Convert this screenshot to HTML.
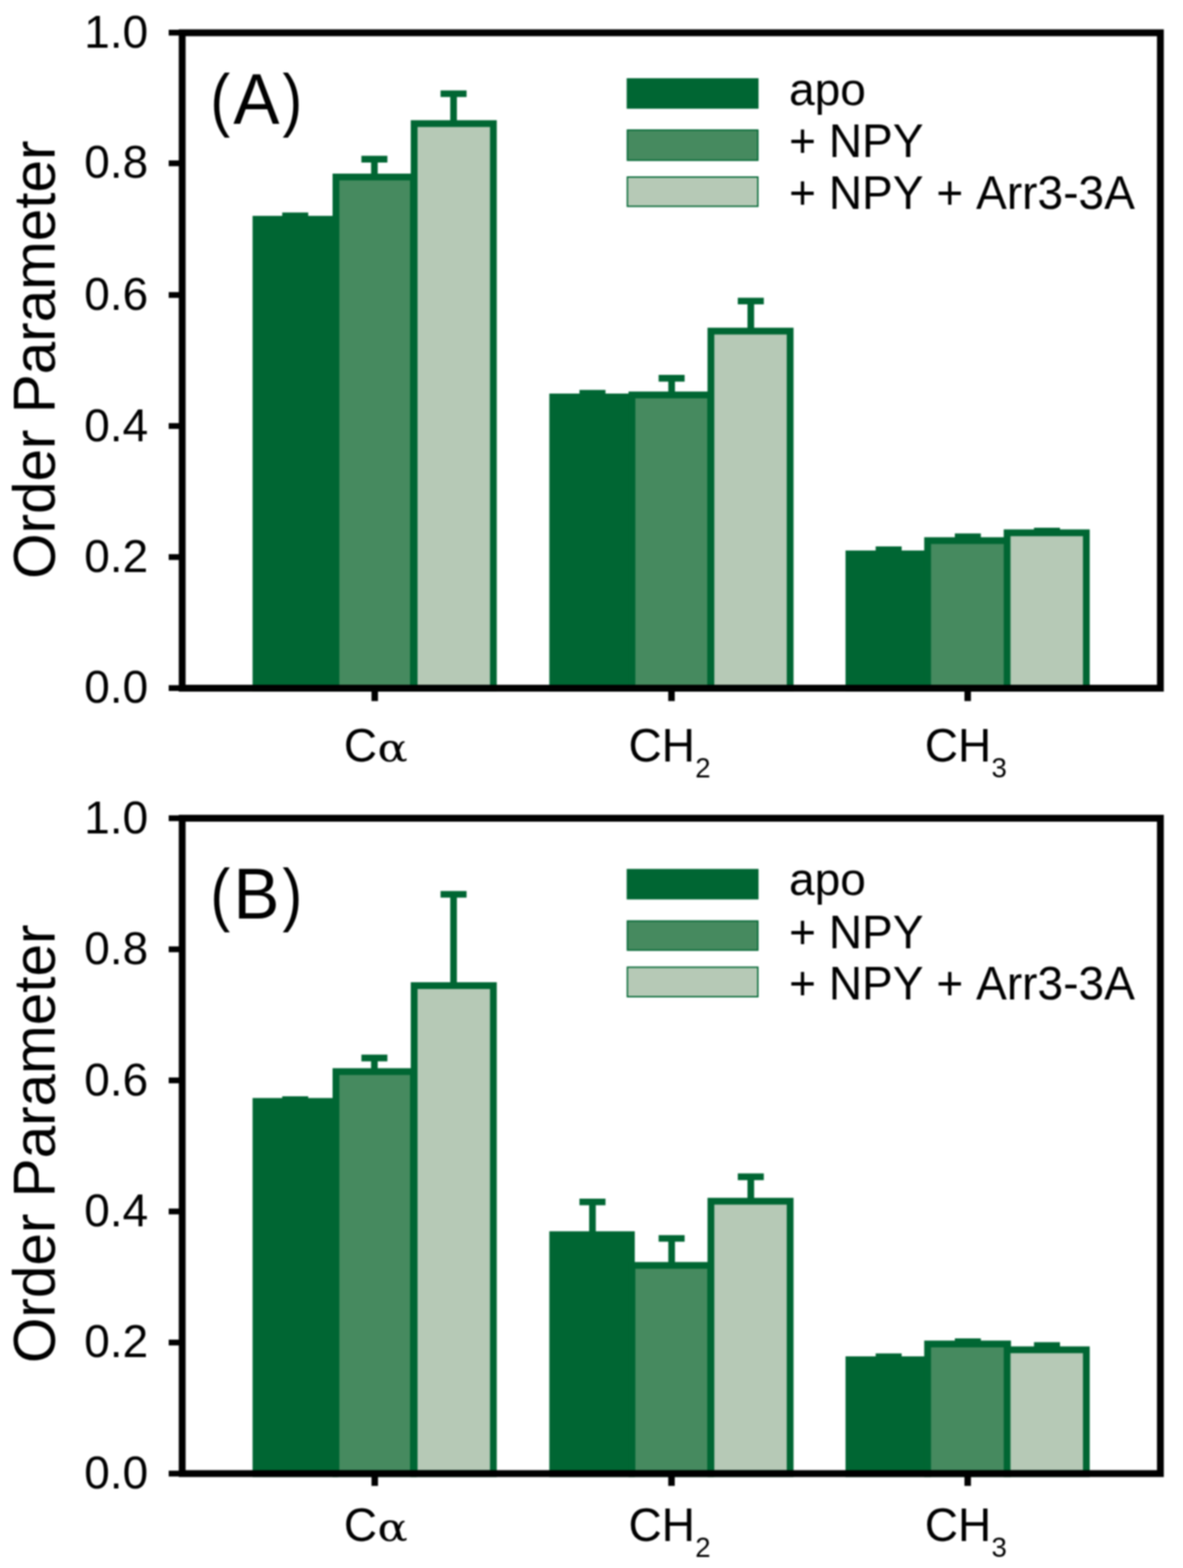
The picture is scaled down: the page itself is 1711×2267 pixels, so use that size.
<!DOCTYPE html>
<html lang="en">
<head>
<meta charset="utf-8">
<title>Order Parameter</title>
<style>
html,body{margin:0;padding:0;background:#fff;}
body{width:1711px;height:2267px;overflow:hidden;}
svg{display:block;}
svg{filter:blur(0.8px);}
text{font-family:"Liberation Sans",sans-serif;fill:#000;font-kerning:none;}
.al{font-family:"DejaVu Math TeX Gyre","DejaVu Serif","Liberation Serif",serif;}
</style>
</head>
<body>
<svg width="1711" height="2267" viewBox="0 0 1711 2267" role="img" aria-label="Order parameter bar charts, panels A and B">
<rect width="1711" height="2267" fill="#fff"/>
<g id="chart">
<g id="panel-a">
<path d="M427.0 317.0V312.1M408.2 312.1H445.8" stroke="#006633" stroke-width="9.6" fill="none"/>
<rect x="370.20" y="317.00" width="113.80" height="678.00" fill="#006633" stroke="#006633" stroke-width="9.8"/>
<path d="M541.5 255.9V230.1M522.7 230.1H560.3" stroke="#006633" stroke-width="9.6" fill="none"/>
<rect x="485.90" y="255.90" width="112.00" height="739.10" fill="#468a5f" stroke="#006633" stroke-width="9.8"/>
<path d="M656.0 178.7V135.5M637.2 135.5H674.8" stroke="#006633" stroke-width="9.6" fill="none"/>
<rect x="599.00" y="178.70" width="114.60" height="816.30" fill="#b6c9b6" stroke="#006633" stroke-width="9.8"/>
<path d="M856.9 573.9V568.5M838.1 568.5H875.7" stroke="#006633" stroke-width="9.6" fill="none"/>
<rect x="799.40" y="573.90" width="113.80" height="421.10" fill="#006633" stroke="#006633" stroke-width="9.8"/>
<path d="M971.4 571.0V546.9M952.6 546.9H990.2" stroke="#006633" stroke-width="9.6" fill="none"/>
<rect x="914.00" y="571.00" width="113.80" height="424.00" fill="#468a5f" stroke="#006633" stroke-width="9.8"/>
<path d="M1085.9 478.7V435.2M1067.1 435.2H1104.7" stroke="#006633" stroke-width="9.6" fill="none"/>
<rect x="1028.20" y="478.70" width="114.60" height="516.30" fill="#b6c9b6" stroke="#006633" stroke-width="9.8"/>
<path d="M1285.3 800.8V794.7M1266.5 794.7H1304.1" stroke="#006633" stroke-width="9.6" fill="none"/>
<rect x="1227.80" y="800.80" width="113.80" height="194.20" fill="#006633" stroke="#006633" stroke-width="9.8"/>
<path d="M1399.8 781.6V776.0M1381.0 776.0H1418.6" stroke="#006633" stroke-width="9.6" fill="none"/>
<rect x="1341.60" y="781.60" width="115.70" height="213.40" fill="#468a5f" stroke="#006633" stroke-width="9.8"/>
<path d="M1514.3 770.3V767.8M1495.5 767.8H1533.1" stroke="#006633" stroke-width="9.6" fill="none"/>
<rect x="1456.60" y="770.30" width="114.60" height="224.70" fill="#b6c9b6" stroke="#006633" stroke-width="9.8"/>
<rect x="263.5" y="47.4" width="1414.8" height="947.6" fill="none" stroke="#000" stroke-width="9.9"/>
<line x1="244" y1="47.2" x2="263.5" y2="47.2" stroke="#000" stroke-width="8.4"/>
<text x="214.4" y="68.8" text-anchor="end" font-size="66.67">1.0</text>
<line x1="244" y1="236.1" x2="263.5" y2="236.1" stroke="#000" stroke-width="8.4"/>
<text x="214.4" y="257.4" text-anchor="end" font-size="66.67">0.8</text>
<line x1="244" y1="426.5" x2="263.5" y2="426.5" stroke="#000" stroke-width="8.4"/>
<text x="214.4" y="447.8" text-anchor="end" font-size="66.67">0.6</text>
<line x1="244" y1="615.9" x2="263.5" y2="615.9" stroke="#000" stroke-width="8.4"/>
<text x="214.4" y="637.5" text-anchor="end" font-size="66.67">0.4</text>
<line x1="244" y1="805.4" x2="263.5" y2="805.4" stroke="#000" stroke-width="8.4"/>
<text x="214.4" y="826.6" text-anchor="end" font-size="66.67">0.2</text>
<line x1="244" y1="994.8" x2="263.5" y2="994.8" stroke="#000" stroke-width="8.4"/>
<text x="214.4" y="1015.9" text-anchor="end" font-size="66.67">0.0</text>
<line x1="542.0" y1="995.0" x2="542.0" y2="1013.6" stroke="#000" stroke-width="9.4"/>
<line x1="971.2" y1="995.0" x2="971.2" y2="1013.6" stroke="#000" stroke-width="9.4"/>
<line x1="1399.6" y1="995.0" x2="1399.6" y2="1013.6" stroke="#000" stroke-width="9.4"/>
<text y="1100.7" font-size="69.40"><tspan x="497.2" textLength="48.15" lengthAdjust="spacingAndGlyphs">C</tspan><tspan class="al" x="543.9" dy="0" font-size="55.6" textLength="49.2" lengthAdjust="spacingAndGlyphs">α</tspan></text>
<text y="1100.7" font-size="69.40"><tspan x="908.9" textLength="96.30" lengthAdjust="spacingAndGlyphs">CH</tspan><tspan x="1005.5" dy="23" font-size="40">2</tspan></text>
<text y="1100.7" font-size="69.40"><tspan x="1337.4" textLength="96.30" lengthAdjust="spacingAndGlyphs">CH</tspan><tspan x="1434.0" dy="23" font-size="40">3</tspan></text>
<text transform="translate(79.2 520.0) rotate(-90)" text-anchor="middle" font-size="84.5">Order Parameter</text>
<text y="177.5" font-size="100"><tspan x="304.2" textLength="28.64" lengthAdjust="spacingAndGlyphs">(</tspan><tspan x="337.5" dy="1" font-size="104.1" textLength="66.7" lengthAdjust="spacingAndGlyphs">A</tspan><tspan x="408.6" dy="-1" font-size="100" textLength="28.64" lengthAdjust="spacingAndGlyphs">)</tspan></text>
<rect x="907.4" y="114.1" width="188.7" height="42.1" fill="#006633" stroke="#006633" stroke-width="2"/>
<text x="1141.2" y="151.9" font-size="66.67">apo</text>
<rect x="907.4" y="188.1" width="188.7" height="43.6" fill="#468a5f" stroke="#006633" stroke-width="2"/>
<text transform="translate(1141.2 227.4) scale(1 1.041)" font-size="66.67">+ NPY</text>
<rect x="907.4" y="256.0" width="188.7" height="42.3" fill="#b6c9b6" stroke="#006633" stroke-width="2"/>
<text transform="translate(1141.2 301.7) scale(1 1.041)" font-size="66.67">+ NPY + Arr3-3A</text>
</g>
<g id="panel-b">
<path d="M427.0 1592.4V1589.9M408.2 1589.9H445.8" stroke="#006633" stroke-width="9.6" fill="none"/>
<rect x="370.20" y="1592.40" width="113.80" height="538.10" fill="#006633" stroke="#006633" stroke-width="9.8"/>
<path d="M541.5 1549.3V1529.6M522.7 1529.6H560.3" stroke="#006633" stroke-width="9.6" fill="none"/>
<rect x="485.90" y="1549.30" width="112.00" height="581.20" fill="#468a5f" stroke="#006633" stroke-width="9.8"/>
<path d="M656.0 1425.0V1293.0M637.2 1293.0H674.8" stroke="#006633" stroke-width="9.6" fill="none"/>
<rect x="599.00" y="1425.00" width="114.60" height="705.50" fill="#b6c9b6" stroke="#006633" stroke-width="9.8"/>
<path d="M856.9 1785.1V1737.8M838.1 1737.8H875.7" stroke="#006633" stroke-width="9.6" fill="none"/>
<rect x="799.40" y="1785.10" width="113.80" height="345.40" fill="#006633" stroke="#006633" stroke-width="9.8"/>
<path d="M971.4 1829.5V1790.5M952.6 1790.5H990.2" stroke="#006633" stroke-width="9.6" fill="none"/>
<rect x="914.00" y="1829.50" width="113.80" height="301.00" fill="#468a5f" stroke="#006633" stroke-width="9.8"/>
<path d="M1085.9 1736.7V1701.4M1067.1 1701.4H1104.7" stroke="#006633" stroke-width="9.6" fill="none"/>
<rect x="1028.20" y="1736.70" width="114.60" height="393.80" fill="#b6c9b6" stroke="#006633" stroke-width="9.8"/>
<path d="M1285.3 1965.9V1961.5M1266.5 1961.5H1304.1" stroke="#006633" stroke-width="9.6" fill="none"/>
<rect x="1227.80" y="1965.90" width="113.80" height="164.60" fill="#006633" stroke="#006633" stroke-width="9.8"/>
<path d="M1399.8 1943.1V1939.8M1381.0 1939.8H1418.6" stroke="#006633" stroke-width="9.6" fill="none"/>
<rect x="1341.60" y="1943.10" width="115.70" height="187.40" fill="#468a5f" stroke="#006633" stroke-width="9.8"/>
<path d="M1514.3 1951.5V1945.4M1495.5 1945.4H1533.1" stroke="#006633" stroke-width="9.6" fill="none"/>
<rect x="1456.60" y="1951.50" width="114.60" height="179.00" fill="#b6c9b6" stroke="#006633" stroke-width="9.8"/>
<rect x="263.5" y="1183.0" width="1414.8" height="947.5" fill="none" stroke="#000" stroke-width="9.9"/>
<line x1="244" y1="1183.0" x2="263.5" y2="1183.0" stroke="#000" stroke-width="8.4"/>
<text x="214.4" y="1204.6" text-anchor="end" font-size="66.67">1.0</text>
<line x1="244" y1="1372.5" x2="263.5" y2="1372.5" stroke="#000" stroke-width="8.4"/>
<text x="214.4" y="1393.6" text-anchor="end" font-size="66.67">0.8</text>
<line x1="244" y1="1562.0" x2="263.5" y2="1562.0" stroke="#000" stroke-width="8.4"/>
<text x="214.4" y="1583.6" text-anchor="end" font-size="66.67">0.6</text>
<line x1="244" y1="1751.5" x2="263.5" y2="1751.5" stroke="#000" stroke-width="8.4"/>
<text x="214.4" y="1773.1" text-anchor="end" font-size="66.67">0.4</text>
<line x1="244" y1="1941.0" x2="263.5" y2="1941.0" stroke="#000" stroke-width="8.4"/>
<text x="214.4" y="1962.4" text-anchor="end" font-size="66.67">0.2</text>
<line x1="244" y1="2130.5" x2="263.5" y2="2130.5" stroke="#000" stroke-width="8.4"/>
<text x="214.4" y="2152.1" text-anchor="end" font-size="66.67">0.0</text>
<line x1="542.0" y1="2130.5" x2="542.0" y2="2148.3" stroke="#000" stroke-width="9.4"/>
<line x1="971.2" y1="2130.5" x2="971.2" y2="2148.3" stroke="#000" stroke-width="9.4"/>
<line x1="1399.6" y1="2130.5" x2="1399.6" y2="2148.3" stroke="#000" stroke-width="9.4"/>
<text y="2228.1" font-size="69.40"><tspan x="497.2" textLength="48.15" lengthAdjust="spacingAndGlyphs">C</tspan><tspan class="al" x="543.9" dy="0" font-size="55.6" textLength="49.2" lengthAdjust="spacingAndGlyphs">α</tspan></text>
<text y="2228.1" font-size="69.40"><tspan x="908.9" textLength="96.30" lengthAdjust="spacingAndGlyphs">CH</tspan><tspan x="1005.5" dy="23" font-size="40">2</tspan></text>
<text y="2228.1" font-size="69.40"><tspan x="1337.4" textLength="96.30" lengthAdjust="spacingAndGlyphs">CH</tspan><tspan x="1434.0" dy="23" font-size="40">3</tspan></text>
<text transform="translate(79.2 1653.7) rotate(-90)" text-anchor="middle" font-size="84.5">Order Parameter</text>
<text y="1326.7" font-size="100"><tspan x="304.2" textLength="28.64" lengthAdjust="spacingAndGlyphs">(</tspan><tspan x="337.5" dy="1" font-size="104.1" textLength="66.7" lengthAdjust="spacingAndGlyphs">B</tspan><tspan x="408.6" dy="-1" font-size="100" textLength="28.64" lengthAdjust="spacingAndGlyphs">)</tspan></text>
<rect x="907.4" y="1257.3" width="188.7" height="42.1" fill="#006633" stroke="#006633" stroke-width="2"/>
<text x="1141.2" y="1293.9" font-size="66.67">apo</text>
<rect x="907.4" y="1331.6" width="188.7" height="42.1" fill="#468a5f" stroke="#006633" stroke-width="2"/>
<text transform="translate(1141.2 1370.6) scale(1 1.041)" font-size="66.67">+ NPY</text>
<rect x="907.4" y="1398.4" width="188.7" height="42.6" fill="#b6c9b6" stroke="#006633" stroke-width="2"/>
<text transform="translate(1141.2 1444.9) scale(1 1.041)" font-size="66.67">+ NPY + Arr3-3A</text>
</g>
</g>
</svg>
</body>
</html>
